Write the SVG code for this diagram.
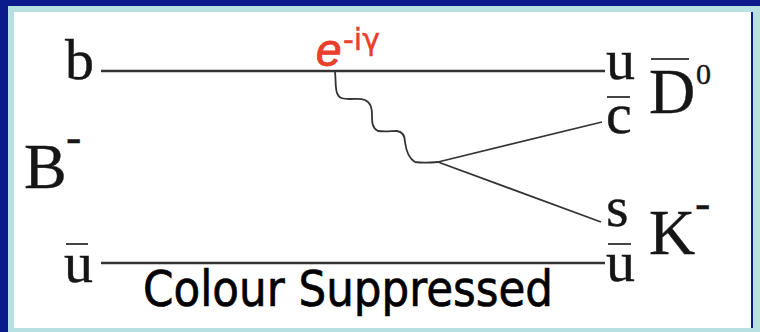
<svg xmlns="http://www.w3.org/2000/svg" width="760" height="332" viewBox="0 0 760 332">
<style>
.q{font-family:"Liberation Serif","Times New Roman",serif;fill:#161616;stroke:#161616;stroke-width:.4}
.big{font-size:64px}
.mid{font-size:58px}
.sup{font-size:30px}
.minus{font-size:46px}
.red{fill:#e8402a;stroke:#e8402a}
.bar{stroke:#333;stroke-width:2.4;fill:none}
.thin{stroke:#333;stroke-width:1.8;fill:none}
.ov{stroke:#444;stroke-width:2;fill:none}
</style>
<rect width="760" height="332" fill="#0c1b8c"/>
<rect x="8" y="6" width="752" height="326" fill="#b7e0e3"/>
<rect x="14" y="12" width="737" height="316" fill="#ffffff"/>
<rect x="751" y="12" width="2" height="316" fill="#0c1b8c"/>
<g id="connectors">
<path class="bar" d="M101 71H605"/>
<path class="bar" d="M101 263H605"/>
<path class="thin" d="M335 72C336 80 335 87 337 93C339 99 344 99 350 99C356 99 360 98 365 100C371 103 372 108 372 115C372 122 372 128 378 131C384 132 392 131 397 131C403 132 405 136 405 142C406 150 408 158 415 162C421 163 428 163 438 162"/>
<path class="thin" d="M438 162L602 122"/>
<path class="thin" d="M438 162L601 222"/>
</g>
<g id="b"><text class="q mid" x="65" y="79">b</text></g>
<g id="B-minus"><text class="q big" x="24" y="188">B</text><text class="q minus" x="66" y="152">-</text></g>
<g id="ubar-left"><text class="q mid" x="64" y="282">u</text><path class="ov" d="M66 244H88"/></g>
<g id="u-right"><text class="q mid" x="606" y="79">u</text></g>
<g id="cbar"><text class="q mid" x="606" y="133">c</text><path class="ov" d="M607 97H630"/></g>
<g id="s"><text class="q mid" x="606" y="226">s</text></g>
<g id="ubar-right"><text class="q mid" x="606" y="281">u</text><path class="ov" d="M608 244H631"/></g>
<g id="D0"><text class="q big" x="649" y="113">D</text><path class="ov" d="M651 59H689"/><text class="q sup" x="696" y="84">0</text></g>
<g id="K-minus"><text class="q big" x="649" y="254">K</text><text class="q minus" x="695" y="218">-</text></g>
<g id="phase"><text class="red" x="316" y="66" font-family="'Liberation Sans',Arial,sans-serif" font-size="46" font-style="italic" stroke-width="1">e</text><text class="red" x="343" y="50" font-family="'DejaVu Sans',sans-serif" font-size="30" stroke-width=".5">-iγ</text></g>
<g id="title"><text x="143" y="306" font-family="'DejaVu Sans',sans-serif" font-size="50" fill="#000" stroke="#000" stroke-width=".7" textLength="410" lengthAdjust="spacingAndGlyphs">Colour Suppressed</text></g>
</svg>
